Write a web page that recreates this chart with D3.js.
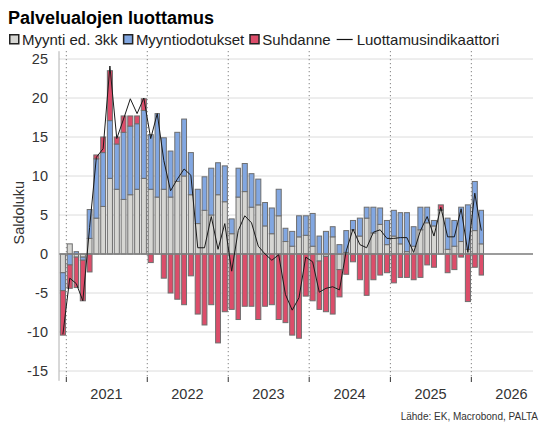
<!DOCTYPE html>
<html>
<head>
<meta charset="utf-8">
<script src="https://cdn.jsdelivr.net/npm/d3@7"></script>
<style>
  body { margin: 0; background: #fff; }
  svg { font-family: "Liberation Sans", Arial, sans-serif; }
</style>
</head>
<body>
<svg id="chart" width="550" height="435"></svg>
<script>
// monthly data, Dec 2020 .. Feb 2026 (contributions to the indicator)
const startMonth = new Date(2020, 11, 1);
const endMonth = new Date(2026, 2, 1);

const myynti = [-2.4,
  1.3, -0.4, -0.4, 2.0, 4.6, 6.1, 9.7, 8.3, 7.0, 7.6, 8.3, 9.7,
  8.3, 7.3, 8.3, 7.3, 9.3, 10.0, 7.6, 3.9, 5.6, 5.0, 7.6, 6.7,
  2.6, 7.3, 8.0, 6.0, 6.3, 3.6, 2.6, 4.9, 1.6, 1.0, 2.2, 2.4,
  1.0, -0.9, -0.3, 2.2, -2.0, 0.2, 3.1, 2.3, 4.6, 2.7, 3.8, 1.2,
  2.3, 1.3, 0.3, 1.0, 3.1, 4.0, 3.6, 5.6, 0.6, 1.0, 1.6, 0.6,
  3.0, 1.3];

const odotukset = [-2.3,
  -1.4, 0.3, -0.4, 3.7, 7.6, 6.9, 7.4, 5.8, 8.6, 8.8, 8.4, 8.7,
  7.0, 10.7, 6.6, 5.9, 6.3, 7.3, 5.4, 4.4, 4.3, 6.0, 4.1, 4.6,
  1.9, 3.7, 3.6, 4.3, 3.3, 3.0, 3.3, 3.4, 1.7, 1.9, 2.7, 2.5,
  4.2, 2.3, 2.9, 1.3, 1.2, 2.8, 1.2, 2.3, 1.4, 3.3, 2.1, 3.1,
  3.3, 4.0, 5.0, 2.5, 2.9, 2.0, 0.7, 0.1, 4.0, 3.3, 4.4, 5.7,
  6.3, 4.3];

const suhdanne = [-5.7,
  -3.0, -3.9, -5.2, -2.3, 0.5, 2.0, 6.4, 0.9, 2.1, 1.3, 1.0, 1.5,
  -1.1, 0.0, -3.1, -5.0, -5.8, -6.5, -2.8, -7.7, -9.1, -6.5, -11.4, -7.4,
  -7.1, -8.4, -6.7, -6.7, -8.4, -6.7, -6.5, -8.4, -8.8, -10.4, -10.8, -5.4,
  -6.0, -6.2, -7.1, -7.7, -3.5, -2.6, -1.0, -3.3, -5.3, -3.3, -2.7, -2.4,
  -3.7, -3.0, -3.0, -3.3, -3.0, -1.4, -1.7, 0.6, -2.4, -2.0, -0.4, -6.1,
  -1.7, -2.7];

const indikaattori = [-10.3,
  -3.1, -3.8, -6.0, 3.4, 12.4, 13.5, 24.1, 14.8, 17.3, 19.9, 18.0, 20.0,
  14.8, 18.0, 12.0, 8.1, 9.6, 10.9, 10.1, 0.8, 0.8, 4.8, 0.6, 3.9,
  -2.2, 3.0, 4.9, 4.0, 1.0, 0.0, -0.8, -0.1, -5.2, -7.2, -5.6, -0.4,
  -1.0, -4.9, -4.4, -4.2, -4.6, 0.4, 3.2, 1.2, 0.8, 2.8, 3.1, 2.0,
  2.0, 2.1, 2.1, 0.2, 3.0, 4.8, 2.3, 6.0, 2.2, 2.2, 5.8, 0.2,
  7.8, 3.0];

const yearLabels = ["2021", "2022", "2023", "2024", "2025", "2026"];
const yTicks = [-15, -10, -5, 0, 5, 10, 15, 20, 25];

const seriesNames = ["Myynti ed. 3kk", "Myyntiodotukset", "Suhdanne"];
const lineName = "Luottamusindikaattori";
const colors = { g: "#d6d6d3", b: "#82a7e1", r: "#dc4d6a" };

const svg = d3.select("#chart");

let months = d3.timeMonth.range(startMonth, endMonth);
let rows = months.map((d, i) => ({ date: d, g: myynti[i], b: odotukset[i], r: suhdanne[i] }));

let x = d3.scaleTime()
  .domain([new Date(2020, 10, 29), new Date(2026, 9, 6)])
  .range([59, 533]);
let y = d3.scaleLinear().domain([-16, 26]).range([378.8, 51.2]);

// grid
svg.append("g").selectAll("line")
  .data(yTicks)
  .enter().append("line")
  .attr("x1", x.range()[0]).attr("x2", x.range()[1])
  .attr("y1", d => y(d)).attr("y2", d => y(d))
  .attr("stroke", "#dcdcdc")
  .attr("stroke-width", 1);

// year separators
let yearStarts = yearLabels.map(t => new Date(+t, 0, 1));
svg.append("g").selectAll("line")
  .data(yearStarts)
  .enter().append("line")
  .attr("x1", d => x(d)).attr("x2", d => x(d))
  .attr("y1", y.range()[1]).attr("y2", y.range()[0])
  .attr("stroke", "#666")
  .attr("stroke-width", 1)
  .attr("stroke-dasharray", "1,3");

// stacked bars
let stacked = d3.stack().keys(["g", "b", "r"]).offset(d3.stackOffsetDiverging)(rows);

let bars = svg.append("g");
stacked.forEach(function (s) {
  bars.append("g")
    .attr("fill", colors[s.key])
    .attr("stroke", "#6e6e6e")
    .attr("stroke-width", 1)
    .selectAll("rect")
    .data(s)
    .enter().append("rect")
    .attr("x", d => x(d.data.date) + 0.9)
    .attr("width", d => x(d3.timeMonth.offset(d.data.date, 1)) - x(d.data.date) - 1.8)
    .attr("y", d => y(Math.max(d[0], d[1])))
    .attr("height", d => Math.abs(y(d[0]) - y(d[1])));
});

// zero line
svg.append("line")
  .attr("x1", x.range()[0]).attr("x2", x.range()[1])
  .attr("y1", y(0)).attr("y2", y(0))
  .attr("stroke", "#808080")
  .attr("stroke-width", 1.5);

// indicator line, points at month middle
let mid = d => new Date((+d + +d3.timeMonth.offset(d, 1)) / 2);
let line = d3.line()
  .x((d, i) => x(mid(months[i])))
  .y(d => y(d));

svg.append("path")
  .datum(indikaattori)
  .attr("fill", "none")
  .attr("stroke", "#1a1a1a")
  .attr("stroke-width", 1)
  .attr("d", line);

// y axis
svg.append("line")
  .attr("x1", 59).attr("x2", 59)
  .attr("y1", y.range()[1]).attr("y2", y.range()[0] + 2)
  .attr("stroke", "#b0b0b0");

svg.append("g").selectAll("text")
  .data(yTicks)
  .enter().append("text")
  .attr("x", 48)
  .attr("y", d => y(d) + 5)
  .attr("text-anchor", "end")
  .attr("font-size", "14.5px")
  .attr("fill", "#333")
  .text(d => d);

svg.append("text")
  .attr("transform", "translate(24," + y(5.3) + ") rotate(-90)")
  .attr("text-anchor", "middle")
  .attr("font-size", "14.5px")
  .attr("fill", "#333")
  .text("Saldoluku");

// x axis: ticks at year start, labels mid-year
svg.append("g").selectAll("line")
  .data(yearStarts)
  .enter().append("line")
  .attr("x1", d => x(d)).attr("x2", d => x(d))
  .attr("y1", 377).attr("y2", 382)
  .attr("stroke", "#333");

svg.append("g").selectAll("text")
  .data(yearLabels)
  .enter().append("text")
  .attr("x", d => x(new Date(+d, 6, 1)))
  .attr("y", 399)
  .attr("text-anchor", "middle")
  .attr("font-size", "14.5px")
  .attr("fill", "#333")
  .text(d => d);

// title + legend
svg.append("text")
  .attr("x", 8).attr("y", 24)
  .attr("font-size", "18px")
  .attr("font-weight", "bold")
  .attr("fill", "#000")
  .text("Palvelualojen luottamus");

let lg = svg.append("g");
let lx = 9;
["g", "b", "r"].forEach(function (k, i) {
  lg.append("rect")
    .attr("x", lx + 0.75).attr("y", 34.75)
    .attr("width", 9).attr("height", 9)
    .attr("fill", colors[k])
    .attr("stroke", "#222")
    .attr("stroke-width", 1.5);
  let t = lg.append("text")
    .attr("x", lx + 13).attr("y", 44.5)
    .attr("font-size", "15px")
    .attr("fill", "#222")
    .text(seriesNames[i]);
  lx += 13 + t.node().getComputedTextLength() + 5;
});
lg.append("line")
  .attr("x1", lx + 1).attr("x2", lx + 17)
  .attr("y1", 39.5).attr("y2", 39.5)
  .attr("stroke", "#111")
  .attr("stroke-width", 1.2);
lg.append("text")
  .attr("x", lx + 21).attr("y", 44.5)
  .attr("font-size", "15px")
  .attr("fill", "#222")
  .text(lineName);

svg.append("text")
  .attr("x", 538).attr("y", 420)
  .attr("text-anchor", "end")
  .attr("font-size", "10px")
  .attr("fill", "#333")
  .text("Lähde: EK, Macrobond, PALTA");
</script>
</body>
</html>
